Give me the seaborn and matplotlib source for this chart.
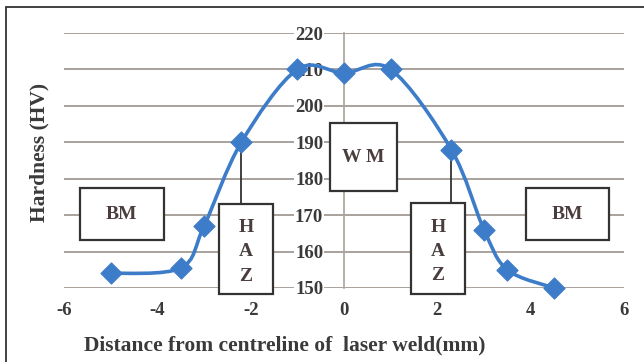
import numpy as np
import pandas as pd
import seaborn as sns
import matplotlib.pyplot as plt
from matplotlib.path import Path
from matplotlib.patches import PathPatch, Rectangle

# distance from weld centreline (mm) and hardness (HV)
distance = [-5, -3.5, -3, -2.2, -1, 0, 1, 2.3, 3, 3.5, 4.5]
hardness = [154, 155.5, 167, 190, 210, 209, 210, 188, 166, 155, 150]

x_ticks = [-6, -4, -2, 0, 2, 4, 6]
y_ticks = [150, 160, 170, 180, 190, 200, 210, 220]

df = pd.DataFrame({"distance": distance, "hardness": hardness})

sns.set_style("white")
plt.rcParams["font.family"] = ["Liberation Serif", "DejaVu Serif"]

blue = "#3d7cc9"
grid_c = "#a9a29c"
text_c = "#3a3a3a"

fig = plt.figure(figsize=(6.44, 3.62), dpi=100)
ax = fig.add_axes([64 / 644, 1 - 288 / 362, 560 / 644, 255 / 362])

# smoothed line (Catmull-Rom style bezier through the points)
pts = df[["distance", "hardness"]].to_numpy(dtype=float)
ext = np.vstack([pts[0], pts, pts[-1]])
verts = [tuple(pts[0])]
codes = [Path.MOVETO]
for i in range(1, len(ext) - 2):
    p0, p1, p2, p3 = ext[i - 1], ext[i], ext[i + 1], ext[i + 2]
    c1 = p1 + (p2 - p0) / 6
    c2 = p2 - (p3 - p1) / 6
    verts += [tuple(c1), tuple(c2), tuple(p2)]
    codes += [Path.CURVE4] * 3
ax.add_patch(PathPatch(Path(verts, codes), fill=False, edgecolor=blue,
                       lw=2.6, zorder=3, clip_on=False))

sns.scatterplot(data=df, x="distance", y="hardness", ax=ax, marker="D",
                s=115, color=blue, edgecolor=blue, zorder=4, clip_on=False,
                legend=False)

ax.set_xlim(-6, 6)
ax.set_ylim(150, 220)
ax.set_xticks(x_ticks)
ax.set_yticks(y_ticks)
ax.set_xticklabels([str(t) for t in x_ticks])
ax.set_yticklabels([str(t) for t in y_ticks])
ax.yaxis.grid(True, color=grid_c, lw=1.4, zorder=0)
ax.set_axisbelow(True)

for s in ["top", "right", "bottom"]:
    ax.spines[s].set_visible(False)
ax.spines["left"].set_position(("data", 0))
ax.spines["left"].set_color(grid_c)
ax.spines["left"].set_linewidth(1.2)
ax.spines["left"].set_zorder(0.5)

ax.tick_params(axis="x", length=0, pad=10, labelsize=13.5, labelcolor=text_c)
ax.tick_params(axis="y", length=0, pad=15, labelsize=13.5, labelcolor=text_c)
for lab in ax.get_xticklabels() + ax.get_yticklabels():
    lab.set_fontweight("bold")
for lab in ax.get_yticklabels():
    lab.set_bbox(dict(facecolor="white", edgecolor="none", pad=1))
ax.set_xlabel("")
ax.set_ylabel("")

# zone boxes
def zone_box(x0, x1, y0, y1, label, spacing=1.2, dy=0):
    ax.add_patch(Rectangle((x0, y0), x1 - x0, y1 - y0, facecolor="white",
                           edgecolor="#333333", lw=1.6, zorder=5,
                           clip_on=False))
    ax.text((x0 + x1) / 2, (y0 + y1) / 2 + dy, label, ha="center",
            va="center", fontsize=14, fontweight="bold", color="#4a3d3d",
            zorder=6, linespacing=spacing)

ax.plot([-2.2, -2.2], [190, 173.1], color="#333333", lw=1.3, zorder=2)
ax.plot([2.3, 2.3], [188, 173.3], color="#333333", lw=1.3, zorder=2)

zone_box(-5.66, -3.86, 163.2, 177.4, "BM")
zone_box(-2.68, -1.52, 148.3, 173.1, "H\nA\nZ", spacing=1.55, dy=-0.8)
zone_box(-0.30, 1.14, 176.6, 195.3, "W M")
zone_box(1.44, 2.59, 148.3, 173.3, "H\nA\nZ", spacing=1.55, dy=-0.8)
zone_box(3.90, 5.68, 163.2, 177.4, "BM")

fig.text(39 / 644, 1 - 152 / 362, "Hardness (HV)", rotation=90, ha="center",
         va="center", fontsize=15.5, fontweight="bold", color=text_c)
fig.text(285 / 644, 1 - 345 / 362, "Distance from centreline of  laser weld(mm)",
         ha="center", va="center", fontsize=15.5, fontweight="bold",
         color=text_c)

# outer frame (left and top edges visible)
fig.add_artist(Rectangle((6 / 644, -0.1), 1.1, 1 - 7 / 362 + 0.1,
                         transform=fig.transFigure, fill=False,
                         edgecolor="#333333", lw=1.3))

fig.savefig("out.png", dpi=100)
